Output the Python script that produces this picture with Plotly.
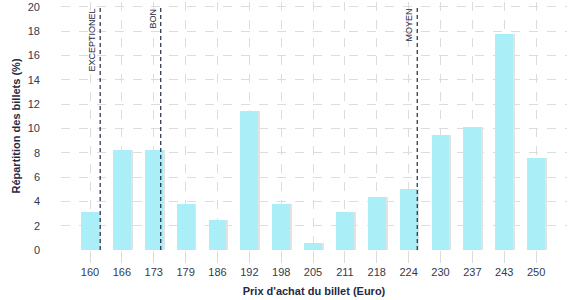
import plotly.graph_objects as go

prices = ["160", "166", "173", "179", "186", "192", "198", "205", "211", "218", "224", "230", "237", "243", "250"]
shares = [3.1, 8.2, 8.2, 3.8, 2.5, 11.4, 3.8, 0.6, 3.1, 4.4, 5.0, 9.5, 10.1, 17.8, 7.6]
ref_labels = ["EXCEPTIONEL", "BON", "MOYEN"]
ref_pos = [0.32, 2.22, 10.27]

xs = list(range(len(prices)))
navy = "#1f2a44"
tick_col = "#323a4e"

fig = go.Figure()
# shadow
fig.add_trace(go.Bar(x=[x + 0.06 for x in xs], y=shares, width=0.56,
                     marker=dict(color="#e2e2e2", line=dict(width=0)), hoverinfo="skip"))
fig.add_trace(go.Bar(x=xs, y=shares, width=0.56,
                     marker=dict(color="#aaeef8", line=dict(width=0))))

for lab, p in zip(ref_labels, ref_pos):
    fig.add_shape(type="line", x0=p, x1=p, y0=0, y1=20, xref="x", yref="y",
                  line=dict(color=navy, width=1.2, dash="4px,3px"))
    fig.add_annotation(x=p, y=20, xref="x", yref="y", text=lab, textangle=-90,
                       showarrow=False, xanchor="right", yanchor="top", xshift=-1,
                       font=dict(size=9, color=navy, family="Liberation Sans"))

fig.update_layout(
    width=577, height=300, margin=dict(l=61, r=10, t=2, b=50),
    plot_bgcolor="white", paper_bgcolor="white", showlegend=False,
    barmode="overlay", bargap=0,
    font=dict(family="Liberation Sans", color=tick_col, size=11),
    xaxis=dict(range=[-0.91, 14.97], tickmode="array", tickvals=xs, ticktext=prices,
               showgrid=True, gridcolor="#dcdcdc", griddash="dash", gridwidth=1,
               zeroline=False, showline=False, ticks="outside", ticklen=12,
               tickcolor="#dcdcdc", tickfont=dict(size=11, color=tick_col),
               title=dict(text="<b>Prix d'achat du billet (Euro)</b>", standoff=10,
                          font=dict(size=11, color=navy))),
    yaxis=dict(range=[0, 20.4], tickvals=list(range(0, 21, 2)),
               showgrid=True, gridcolor="#dcdcdc", griddash="dash", gridwidth=1,
               zeroline=False, showline=False, ticks="", ticklabelstandoff=20,
               tickfont=dict(size=11, color=tick_col),
               title=dict(text="<b>Répartition des billets (%)</b>", standoff=4,
                          font=dict(size=11, color=navy))),
)

fig.write_html("out.html")
